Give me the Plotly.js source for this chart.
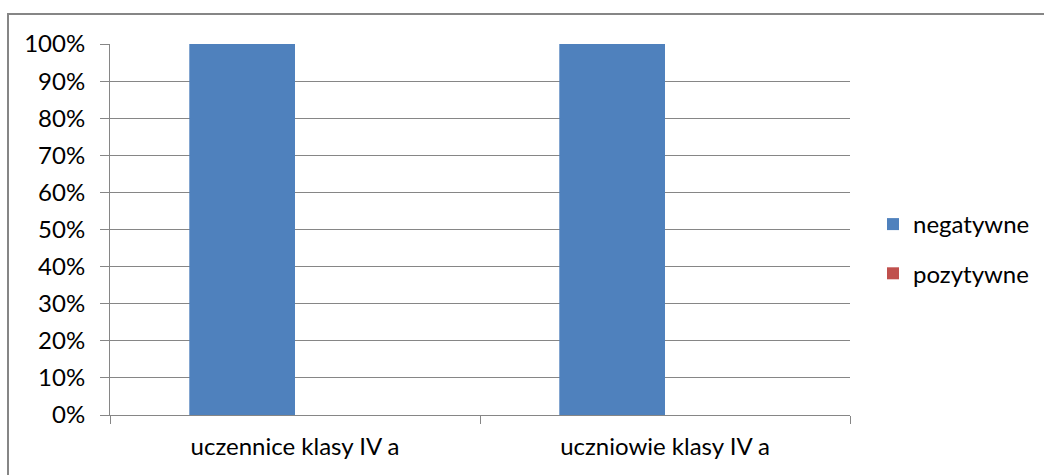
<!DOCTYPE html>
<html>
<head>
<meta charset="utf-8">
<script src="https://cdn.plot.ly/plotly-3.0.1.min.js"></script>
<style>
  html, body { margin: 0; padding: 0; background: #fff; }
  #chart { width: 1044px; height: 475px; }
</style>
</head>
<body>
<div id="chart"></div>
<script>
const categories = ["uczennice klasy IV a", "uczniowie klasy IV a"];
const negatywne = [100, 100];
const pozytywne = [0, 0];
const seriesNames = ["negatywne", "pozytywne"];
const yTicks = [0, 10, 20, 30, 40, 50, 60, 70, 80, 90, 100];

const FONT = "Lato, 'Open Sans', sans-serif";
const FS = 24;
const GRID = "#868686";

const traces = [
  { type: "bar", x: categories, y: negatywne, name: seriesNames[0],
    marker: { color: "#4F81BD", line: { width: 0 } }, legendgroup: "a" },
  { type: "bar", x: categories, y: pozytywne, name: seriesNames[1],
    marker: { color: "#C0504D", line: { width: 0 } }, legendgroup: "b" }
];

const layout = {
  width: 1044, height: 475,
  margin: { l: 110, r: 194, t: 44, b: 60, autoexpand: false },
  paper_bgcolor: "#fff", plot_bgcolor: "#fff",
  font: { family: FONT, size: FS, color: "#000" },
  barmode: "group",
  bargap: 1.5 / 3.5,
  bargroupgap: 0,
  showlegend: true,
  legend: {
    xref: "container", yref: "container",
    x: 873 / 1044, y: (475 - 249) / 475, xanchor: "left", yanchor: "middle",
    font: { family: FONT, size: FS, color: "#000" },
    tracegroupgap: 15, itemwidth: 30
  },
  xaxis: {
    type: "category",
    showgrid: false,
    showline: true, linecolor: GRID, linewidth: 1,
    ticks: "outside", tickson: "boundaries", ticklen: 8, tickcolor: GRID,
    ticklabelstandoff: 10,
    tickfont: { family: FONT, size: FS, color: "#000" },
    zeroline: false, fixedrange: true
  },
  yaxis: {
    range: [0, 100],
    tickvals: yTicks,
    ticktext: yTicks.map(v => v + "%"),
    showgrid: true, gridcolor: GRID, gridwidth: 1,
    showline: true, linecolor: GRID, linewidth: 1,
    ticks: "outside", ticklen: 9, tickcolor: GRID,
    ticklabelstandoff: 10,
    tickfont: { family: FONT, size: FS, color: "#000" },
    zeroline: false, fixedrange: true
  },
  shapes: [
    { type: "rect", xref: "paper", yref: "paper",
      x0: (8 - 110) / 740, x1: 1.6, y0: -0.5, y1: (415 - 14) / 371,
      line: { color: GRID, width: 2 }, fillcolor: "rgba(0,0,0,0)" }
  ]
};

Plotly.newPlot("chart", traces, layout, { displayModeBar: false, staticPlot: true });
</script>
</body>
</html>
